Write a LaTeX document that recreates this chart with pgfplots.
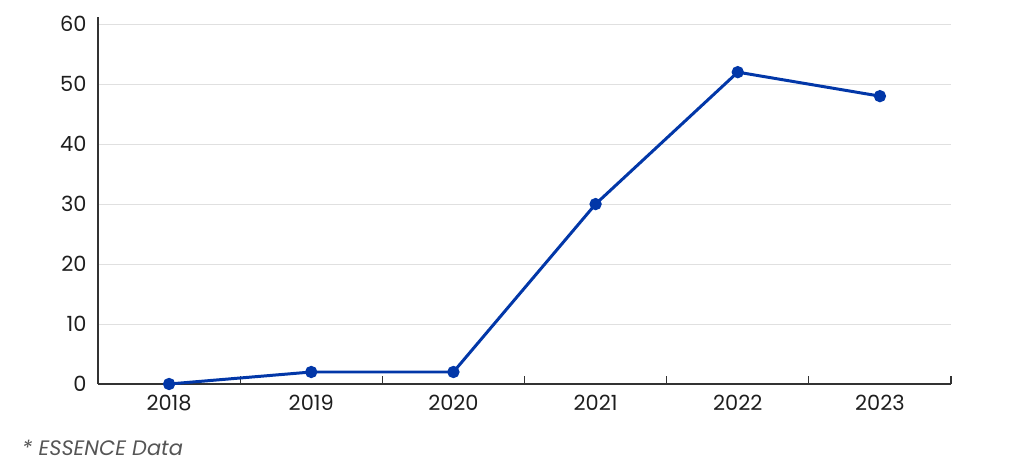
\documentclass[border=0pt]{standalone}
\usepackage{pgfplots}
\pgfplotsset{compat=1.18}
\usepackage{fontspec}
\setmainfont{Poppins}
\definecolor{lineblue}{HTML}{0237A8}
\definecolor{axisgray}{HTML}{333333}
\definecolor{gridgray}{HTML}{E0E0E0}
\definecolor{textgray}{HTML}{1E1E1E}
\definecolor{notegray}{HTML}{555555}
\begin{document}
\begin{tikzpicture}[x=1bp,y=1bp]
\useasboundingbox (0,0) rectangle (1024,470);
\begin{axis}[
  at={(98bp,86bp)}, anchor=south west,
  scale only axis,
  width=853bp, height=367bp,
  xmin=-0.5, xmax=5.5,
  ymin=0, ymax=61.2,
  axis x line=bottom, axis y line=left,
  axis line style={-, axisgray, line width=1.3pt},
  xtick={0,...,5},
  xticklabels={2018,2019,2020,2021,2022,2023},
  minor xtick={0.5,1.5,...,5.5},
  major x tick style={draw=none},
  minor tick length=8bp,
  minor x tick style={axisgray, line width=1.2pt},
  xtick pos=bottom,
  ytick={0,10,...,60},
  y tick style={draw=none},
  ymajorgrids,
  grid style={gridgray, line width=0.9pt},
  tick align=inside,
  tick label style={font=\fontsize{21}{23}\selectfont, text=textgray},
  /pgf/number format/assume math mode=true,
  xticklabel style={yshift=-8bp},
  yticklabel style={xshift=-8bp},
  clip=false,
]
\addplot[lineblue, line width=3pt, mark=*, mark size=4.6bp, mark options={fill=lineblue, draw=lineblue, solid}]
coordinates {(0,0) (1,2) (2,2) (3,30) (4,52) (5,48)};
\end{axis}
\node[anchor=base west, inner sep=0pt, text=notegray, font=\fontsize{21}{23}\selectfont\itshape] at (22,14) {* ESSENCE Data};
\end{tikzpicture}
\end{document}
